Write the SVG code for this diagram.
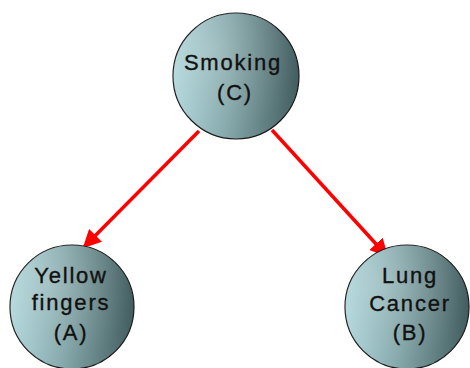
<svg xmlns="http://www.w3.org/2000/svg" width="470" height="368" viewBox="0 0 470 368">
<defs>
<linearGradient id="g" x1="0" y1="0" x2="1" y2="0">
<stop offset="0" stop-color="#aed6da"/>
<stop offset="0.45" stop-color="#82a5a8"/>
<stop offset="1" stop-color="#435d5f"/>
</linearGradient>
<radialGradient id="h" cx="0.3" cy="0.3" r="0.7">
<stop offset="0" stop-color="#ffffff" stop-opacity="0.2"/>
<stop offset="1" stop-color="#ffffff" stop-opacity="0"/>
</radialGradient>
<marker id="ah" viewBox="0 0 10 10" refX="9" refY="5" markerWidth="5.2" markerHeight="5.2" orient="auto" markerUnits="strokeWidth">
<path d="M0,0 L10,5 L0,10 z" fill="#ff0000"/>
</marker>
</defs>
<style>
.n{fill:url(#g);stroke:#1a1a1a;stroke-width:1.2}
.o{fill:url(#h)}
.t{font-family:"Liberation Sans",Arial,sans-serif;font-size:22px;letter-spacing:1.8px;fill:#111;stroke:#111;stroke-width:0.35;text-anchor:middle}
.e{stroke:#ff0000;stroke-width:3.5;fill:none;marker-end:url(#ah)}
</style>
<g id="edges">
<line class="e" x1="199" y1="131" x2="84" y2="247"/>
<line class="e" x1="272" y1="130" x2="387" y2="256"/>
</g>
<g id="C">
<circle class="n" cx="236" cy="76" r="63"/>
<circle class="o" cx="236" cy="76" r="63"/>
<text class="t" x="233" y="70">Smoking</text>
<text class="t" x="235" y="100">(C)</text>
</g>
<g id="A">
<circle class="n" cx="72" cy="307" r="62"/>
<circle class="o" cx="72" cy="307" r="62"/>
<text class="t" x="71" y="283">Yellow</text>
<text class="t" x="71" y="310">fingers</text>
<text class="t" x="71" y="340">(A)</text>
</g>
<g id="B">
<circle class="n" cx="407" cy="307" r="62"/>
<circle class="o" cx="407" cy="307" r="62"/>
<text class="t" x="410" y="283">Lung</text>
<text class="t" x="410" y="311">Cancer</text>
<text class="t" x="410" y="340">(B)</text>
</g>
</svg>
